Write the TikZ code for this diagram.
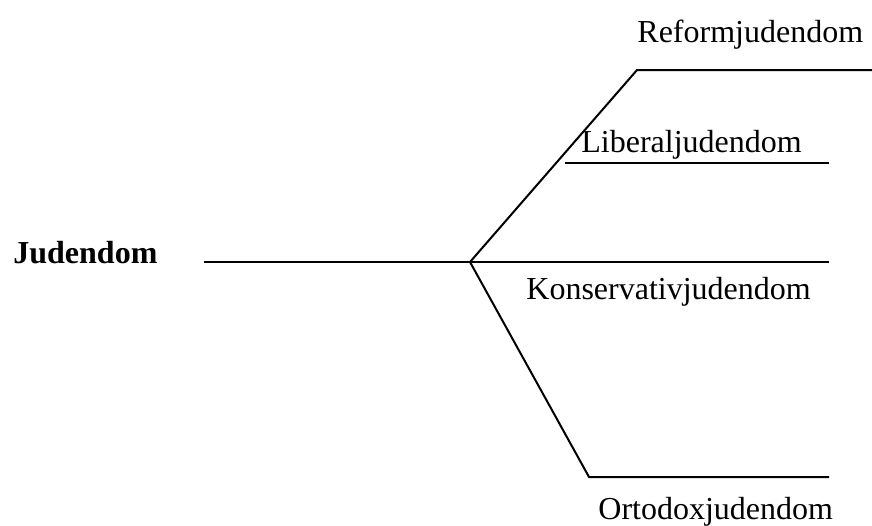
\documentclass[tikz,border=0pt]{standalone}
\usepackage{fontspec}
\setmainfont{Liberation Serif}
\usepackage{tikz}
\usetikzlibrary{calc}
\tikzset{
  line/.style={draw=black, line width=1pt},
  lbl/.style={text=black, font=\fontsize{16}{19}\selectfont, inner sep=0pt, anchor=base west},
  rootlbl/.style={lbl, font=\fontsize{16}{19}\selectfont\bfseries}
}
\begin{document}
\begin{tikzpicture}[x=0.5pt, y=-0.5pt]
  \useasboundingbox (0,0) rectangle (872,525);

  \coordinate (root) at (204,262);
  \coordinate (split) at (470,262);
  \coordinate (reformA) at (637,70);
  \coordinate (reformB) at (872,70);
  \coordinate (liberalA) at (565,163);
  \coordinate (liberalB) at (829,163);
  \coordinate (konsB) at (829,262);
  \coordinate (ortoA) at (589,477);
  \coordinate (ortoB) at (829,477);

  \draw[line] (root) -- (split) -- (konsB);
  \draw[line] (split) -- (reformA) -- (reformB);
  \draw[line] (liberalA) -- (liberalB);
  \draw[line] (split) -- (ortoA) -- (ortoB);

  \node[rootlbl] (judendom) at (13,263) {Judendom};
  \node[lbl] (reform) at (637,42) {Reformjudendom};
  \node[lbl] (liberal) at (581,152) {Liberaljudendom};
  \node[lbl] (kons) at (526,299) {Konservativjudendom};
  \node[lbl] (orto) at (598,519) {Ortodoxjudendom};
\end{tikzpicture}
\end{document}
